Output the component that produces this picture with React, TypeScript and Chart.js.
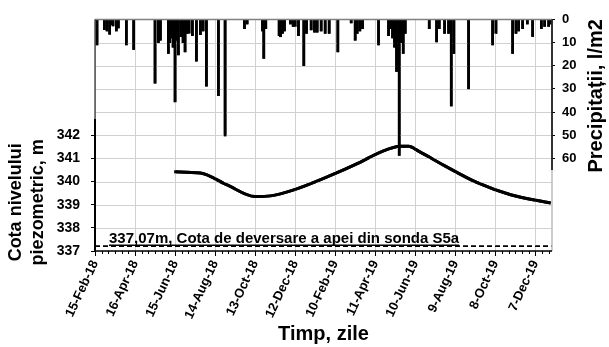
import React, { useEffect, useRef } from "react";
import { Chart, registerables } from "chart.js";

Chart.register(...registerables);

// ---- data ----
const startDate = "2018-02-15";
const endDay = 685; // days from start to 1-Jan-2020
const xTickStepDays = 60;
const xMinorStepDays = 10;

const precipDates = [
  "2018-02-18", "2018-03-01", "2018-03-05", "2018-03-09", "2018-03-12", "2018-03-14", "2018-03-19", "2018-03-22",
  "2018-04-03", "2018-04-14", "2018-05-16", "2018-05-21", "2018-05-24", "2018-06-05", "2018-06-07", "2018-06-09",
  "2018-06-12", "2018-06-15", "2018-06-17", "2018-06-20", "2018-06-24", "2018-06-27", "2018-06-30", "2018-07-03",
  "2018-07-06", "2018-07-11", "2018-07-17", "2018-07-23", "2018-07-27", "2018-08-01", "2018-08-19", "2018-08-29",
  "2018-09-27", "2018-10-01", "2018-10-24", "2018-10-26", "2018-10-29", "2018-11-18", "2018-11-20", "2018-11-23",
  "2018-11-26", "2018-12-05", "2018-12-09", "2018-12-12", "2018-12-17", "2018-12-25", "2018-12-29", "2019-01-05",
  "2019-01-10", "2019-01-14", "2019-01-20", "2019-01-26", "2019-02-01", "2019-02-14", "2019-03-06", "2019-03-12",
  "2019-03-15", "2019-03-19", "2019-03-23", "2019-04-16", "2019-05-01", "2019-05-04", "2019-05-07", "2019-05-10",
  "2019-05-13", "2019-05-17", "2019-05-20", "2019-05-23", "2019-05-26", "2019-07-01", "2019-07-12", "2019-07-16",
  "2019-07-24", "2019-07-30", "2019-08-03", "2019-08-07", "2019-08-29", "2019-10-04", "2019-10-09", "2019-11-03",
  "2019-11-08", "2019-11-12", "2019-11-18", "2019-11-25", "2019-12-03", "2019-12-16", "2019-12-21", "2019-12-27",
  "2019-12-30",
];
const precipValues = [
  11, 4.4, 5, 6.4, 2.3, 2.8, 5, 3.7,
  11, 13, 27.5, 10, 9, 14.7, 10, 8,
  12, 35.6, 9, 15.3, 7.4, 10, 14, 6,
  5.9, 7, 18, 6.6, 5, 28.8, 32.9, 50.3,
  4, 2, 5, 16.8, 4, 7, 7.5, 6,
  5, 2, 3, 3, 7, 20, 6, 4.5,
  5.5, 5.5, 5, 6, 6, 14, 1.5, 9,
  6, 5, 4, 11, 7, 4, 8, 12,
  22.5, 58.7, 10, 14.7, 6, 4, 9.7, 4,
  6, 6, 37.4, 14.7, 30, 11, 6, 14.7,
  6, 5, 4, 2, 7.4, 4, 3, 3,
  2,
];

const levelDates = [
  "2018-06-14", "2018-07-23", "2018-09-01", "2018-10-13", "2018-11-05", "2018-12-10", "2019-01-29", "2019-03-20",
  "2019-04-19", "2019-05-19", "2019-05-31", "2019-06-15", "2019-07-23", "2019-09-11", "2019-10-31", "2019-12-30",
];
const levelValues = [
  340.42, 340.37, 339.85, 339.35, 339.38, 339.64, 340.2, 340.84,
  341.27, 341.52, 341.52, 341.31, 340.7, 339.95, 339.43, 339.07,
];

const deversareLevel = 337.2; // position of the dashed line as drawn in the picture
const deversareLabel = "337,07m, Cota de deversare a apei din sonda S5a";
const leftTitle = ["Cota nivelului", "piezometric, m"];
const rightTitle = "Precipitații, l/m2";
const xTitle = "Timp, zile";
const leftMin = 337, leftMax = 347, leftLabelMax = 342;
const rightMin = 0, rightMax = 100, rightLabelMax = 60;
const monthNames = ["Jan", "Feb", "Mar", "Apr", "May", "Jun", "Jul", "Aug", "Sep", "Oct", "Nov", "Dec"];

// ---- helpers ----
const START_MS = Date.parse(startDate + "T00:00:00Z");
const dayOf = (s: string) => (Date.parse(s + "T00:00:00Z") - START_MS) / 86400000;
const fmtDay = (d: number) => {
  const dt = new Date(START_MS + d * 86400000);
  return `${dt.getUTCDate()}-${monthNames[dt.getUTCMonth()]}-${String(dt.getUTCFullYear()).slice(2)}`;
};
const FONT = '"Liberation Sans", Arial, Helvetica, sans-serif';
const GRID = "#d0d0d0";

function drawGrid(chart: any) {
  const { ctx, chartArea: a, scales } = chart;
  const x = scales.x, y = scales.y;
  ctx.save();
  ctx.lineWidth = 1;
  ctx.strokeStyle = GRID;
  ctx.setLineDash([]);
  for (let d = 0; d <= endDay; d += xTickStepDays) {
    const px = Math.round(x.getPixelForValue(d)) + 0.5;
    ctx.beginPath();
    ctx.moveTo(px, a.top);
    ctx.lineTo(px, a.bottom);
    ctx.stroke();
  }
  for (let v = leftMin; v <= leftMax; v += 1) {
    const py = Math.round(y.getPixelForValue(v)) + 0.5;
    ctx.beginPath();
    ctx.moveTo(a.left, py);
    ctx.lineTo(a.right, py);
    ctx.stroke();
  }
  ctx.restore();
}

const decoPlugin = {
  id: "deco",
  afterDraw(chart: any) {
    const { ctx, chartArea: a, scales } = chart;
    const x = scales.x, y = scales.y, y2 = scales.y2;
    // grid, then datasets again on top of it
    drawGrid(chart);
    const metas = chart.getSortedVisibleDatasetMetas();
    for (let i = metas.length - 1; i >= 0; i--) {
      ctx.save();
      metas[i].controller.draw();
      ctx.restore();
    }
    ctx.save();
    // minor ticks on x axis
    ctx.strokeStyle = "#000";
    ctx.lineWidth = 1;
    ctx.setLineDash([]);
    for (let d = 0; d <= endDay; d += xMinorStepDays) {
      const px = Math.round(x.getPixelForValue(d)) + 0.5;
      ctx.beginPath();
      ctx.moveTo(px, a.bottom);
      ctx.lineTo(px, a.bottom + 3);
      ctx.stroke();
    }
    // borders
    ctx.strokeStyle = "#808080";
    ctx.lineWidth = 1.5;
    ctx.beginPath();
    ctx.moveTo(a.left, a.top);
    ctx.lineTo(a.right, a.top);
    ctx.stroke();
    ctx.strokeStyle = "#bdbdbd";
    ctx.lineWidth = 1.5;
    ctx.beginPath();
    ctx.moveTo(a.right, a.top);
    ctx.lineTo(a.right, a.bottom);
    ctx.stroke();
    ctx.strokeStyle = "#000";
    ctx.beginPath();
    ctx.moveTo(a.right, a.top);
    ctx.lineTo(a.right, y2.getPixelForValue(65));
    ctx.stroke();
    ctx.lineWidth = 1;
    ctx.beginPath();
    ctx.moveTo(a.left, a.top);
    ctx.lineTo(a.left, a.bottom);
    ctx.stroke();
    ctx.lineWidth = 2;
    ctx.beginPath();
    ctx.moveTo(a.left, y.getPixelForValue(342.7));
    ctx.lineTo(a.left, a.bottom);
    ctx.stroke();
    ctx.lineWidth = 1.5;
    ctx.beginPath();
    ctx.moveTo(a.left, a.bottom);
    ctx.lineTo(a.right, a.bottom);
    ctx.stroke();

    // annotation text
    ctx.fillStyle = "#000";
    ctx.font = `bold 15px ${FONT}`;
    ctx.textAlign = "left";
    ctx.textBaseline = "alphabetic";
    const tx = x.getPixelForValue(21);
    const ty = y.getPixelForValue(deversareLevel) - 3;
    ctx.fillText(deversareLabel, tx, ty);
    const w = ctx.measureText(deversareLabel).width;
    ctx.lineWidth = 1.5;
    ctx.beginPath();
    ctx.moveTo(tx, ty + 2);
    ctx.lineTo(tx + w, ty + 2);
    ctx.stroke();

    // left title
    ctx.font = `bold 18px ${FONT}`;
    ctx.textAlign = "center";
    ctx.textBaseline = "middle";
    const cy = y.getPixelForValue(339.1);
    [16, 38].forEach((px, i) => {
      ctx.save();
      ctx.translate(px, cy);
      ctx.rotate(-Math.PI / 2);
      ctx.fillText(leftTitle[i], 0, 0);
      ctx.restore();
    });
    // right title
    ctx.font = `bold 20px ${FONT}`;
    ctx.save();
    ctx.translate(596, y2.getPixelForValue(33));
    ctx.rotate(-Math.PI / 2);
    ctx.fillText(rightTitle, 0, 0);
    ctx.restore();
    ctx.restore();
  },
};

export default function App() {
  const ref = useRef<HTMLCanvasElement | null>(null);
  useEffect(() => {
    if (!ref.current) return;
    const precipData = precipDates.map((d, i) => ({ x: dayOf(d), y: precipValues[i] }));
    const levelData = levelDates.map((d, i) => ({ x: dayOf(d), y: levelValues[i] }));
    const devData = [
      { x: 0, y: deversareLevel },
      { x: endDay, y: deversareLevel },
    ];
    const chart = new Chart(ref.current, {
      type: "bar",
      data: {
        datasets: [
          {
            type: "line",
            label: "Cota",
            data: levelData,
            yAxisID: "y",
            borderColor: "#000",
            borderWidth: 3,
            pointRadius: 0,
            cubicInterpolationMode: "monotone",
            fill: false,
            order: 1,
          } as any,
          {
            type: "line",
            label: "Deversare",
            data: devData,
            yAxisID: "y",
            borderColor: "#000",
            borderWidth: 1.5,
            borderDash: [5, 3],
            pointRadius: 0,
            fill: false,
            order: 2,
          } as any,
          {
            type: "bar",
            label: "Precipitatii",
            data: precipData,
            yAxisID: "y2",
            backgroundColor: "#000",
            borderWidth: 0,
            barThickness: 2,
            order: 3,
          } as any,
        ],
      },
      options: {
        animation: false,
        responsive: false,
        devicePixelRatio: 1,
        layout: { padding: { top: 17, left: 0, right: 0, bottom: 0 } },
        plugins: { legend: { display: false }, tooltip: { enabled: false } },
        scales: {
          x: {
            type: "linear",
            min: 0,
            max: endDay,
            offset: false,
            afterFit: (s: any) => { s.height = 96; },
            afterBuildTicks: (s: any) => {
              const t = [];
              for (let d = 0; d <= endDay; d += xTickStepDays) t.push({ value: d });
              s.ticks = t;
            },
            ticks: {
              autoSkip: false,
              minRotation: 65,
              maxRotation: 65,
              padding: 2,
              color: "#000",
              font: { family: FONT, size: 13, weight: "bold" },
              callback: (v: any) => fmtDay(Number(v)),
            },
            grid: { drawOnChartArea: false, tickColor: "#000", color: "#000", tickLength: 5, offset: false },
            border: { display: false },
            title: {
              display: true,
              text: xTitle,
              color: "#000",
              font: { family: FONT, size: 20, weight: "bold" },
              padding: { top: 0, bottom: 1 },
            },
          },
          y: {
            type: "linear",
            position: "left",
            min: leftMin,
            max: leftMax,
            afterFit: (s: any) => { s.width = 95; },
            ticks: {
              stepSize: 1,
              padding: 11,
              color: "#000",
              font: { family: FONT, size: 14, weight: "bold" },
              callback: (v: any) => (Number(v) <= leftLabelMax ? String(v) : ""),
            },
            grid: {
              drawOnChartArea: false,
              tickLength: 4,
              color: (c: any) => (c.tick && c.tick.value <= leftLabelMax ? "#000" : "rgba(0,0,0,0)"),
            },
            border: { display: false },
          },
          y2: {
            type: "linear",
            position: "right",
            min: rightMin,
            max: rightMax,
            reverse: true,
            afterFit: (s: any) => { s.width = 57; },
            ticks: {
              stepSize: 10,
              padding: 7,
              color: "#000",
              font: { family: FONT, size: 13, weight: "bold" },
              callback: (v: any) => (Number(v) <= rightLabelMax ? String(v) : ""),
            },
            grid: {
              drawOnChartArea: false,
              tickLength: 3,
              color: (c: any) => (c.tick && c.tick.value <= rightLabelMax ? "#000" : "rgba(0,0,0,0)"),
            },
            border: { display: false },
          },
        },
      } as any,
      plugins: [decoPlugin],
    });
    return () => chart.destroy();
  }, []);
  return (
    <div style={{ position: "fixed", left: 0, top: 0, width: 609, height: 347, background: "#fff" }}>
      <canvas ref={ref} width={609} height={347} style={{ width: 609, height: 347, display: "block" }} />
    </div>
  );
}
